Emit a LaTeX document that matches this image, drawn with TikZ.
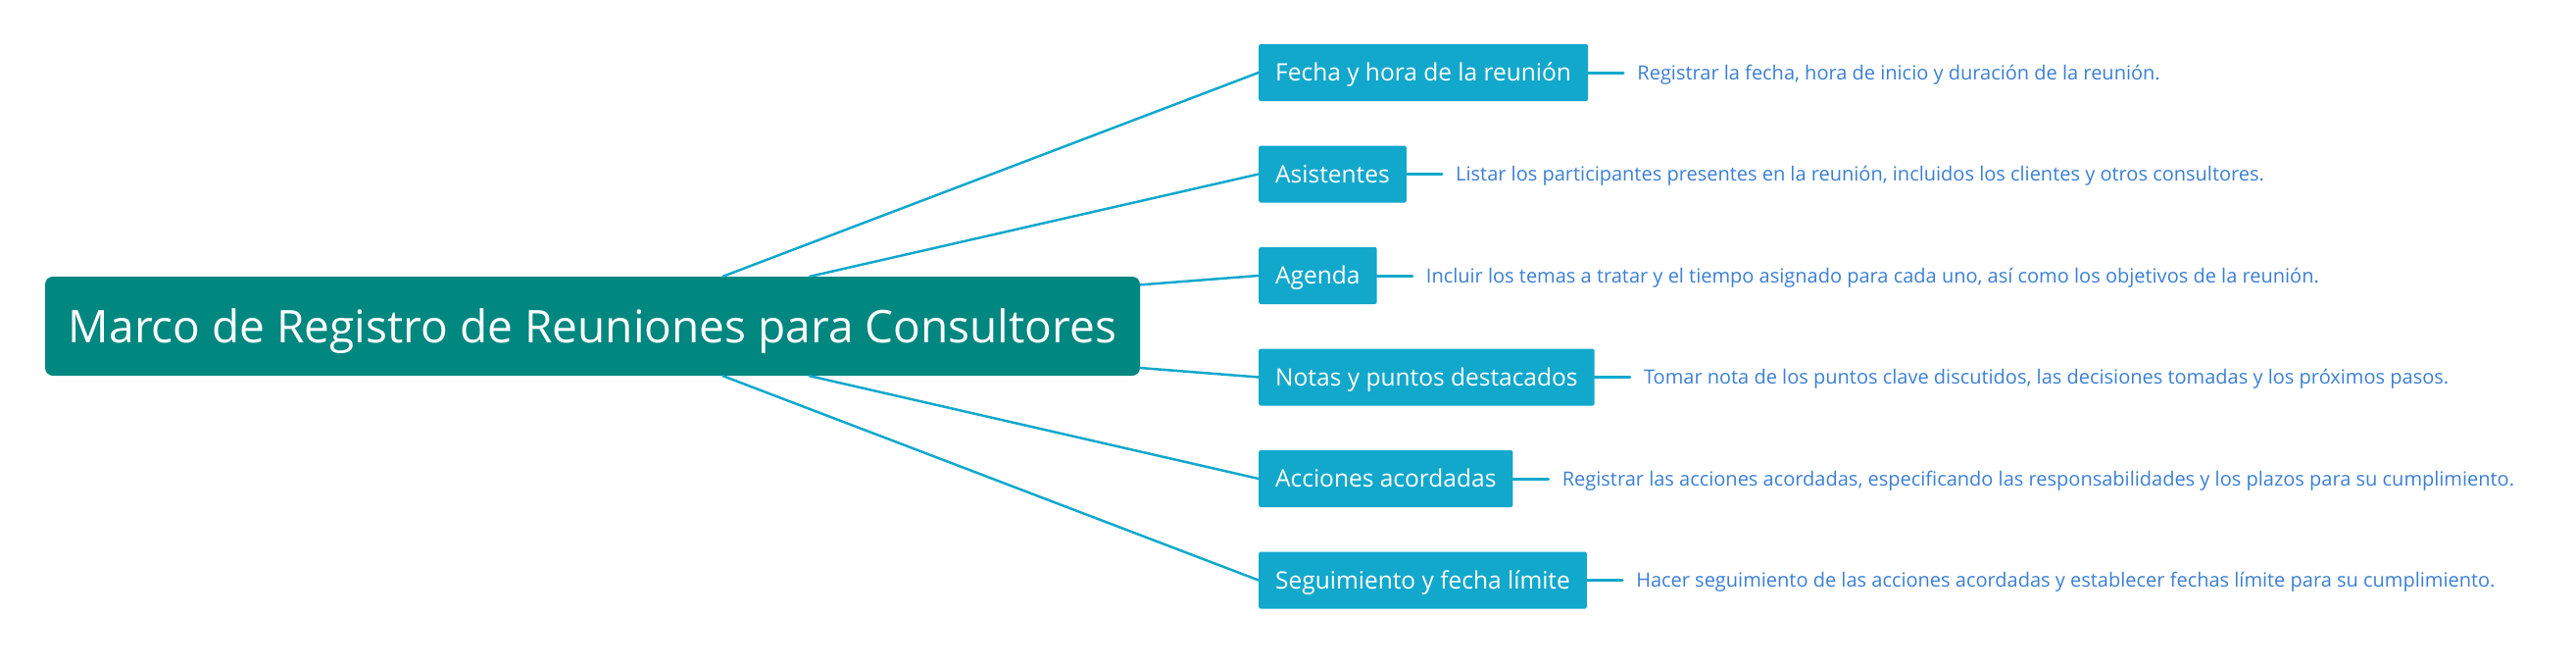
\documentclass[tikz,border=0pt]{standalone}
\usepackage{fontspec}
\setmainfont{Open Sans}
\usetikzlibrary{positioning}
\definecolor{MapTeal}{HTML}{00877F}
\definecolor{MapCyan}{HTML}{12A8CC}
\definecolor{MapBlue}{HTML}{3B7FD3}
\tikzset{
  root/.style={fill=MapTeal,text=white,rounded corners=8pt,minimum width=1117pt,
    minimum height=101pt,text height=33pt,text depth=0pt,font=\fontsize{46}{55}\selectfont},
  topic/.style={fill=MapCyan,text=white,rounded corners=2pt,anchor=west,minimum height=58pt,
    inner xsep=17pt,inner ysep=0pt,text height=17.5pt,text depth=0pt,
    font=\fontsize{24.5}{29}\selectfont},
  note/.style={text=MapBlue,inner xsep=14pt,inner ysep=0pt,text height=14.3pt,
    text depth=0pt,font=\fontsize{20}{24}\selectfont},
  link/.style={MapCyan,line width=2.5pt},
  stub/.style={MapCyan,line width=3pt}
}

\begin{document}
\begin{tikzpicture}[x=1pt,y=-1pt,line cap=round,line join=round]
  \useasboundingbox (0,0) rectangle (2628,681);
  \node[root] (M) at (604.5,332.5) {Marco de Registro de Reuniones para Consultores};
  \node[topic] (T1) at (1284,74) {Fecha y hora de la reunión};
  \node[topic] (T2) at (1284,177.5) {Asistentes};
  \node[topic] (T3) at (1284,281) {Agenda};
  \node[topic] (T4) at (1284,384.5) {Notas y puntos destacados};
  \node[topic] (T5) at (1284,488) {Acciones acordadas};
  \node[topic] (T6) at (1284,591.5) {Seguimiento y fecha límite};
  \node[note,right=36pt of T1] (D1) {Registrar la fecha, hora de inicio y duración de la reunión.};
  \node[note,right=36pt of T2] (D2) {Listar los participantes presentes en la reunión, incluidos los clientes y otros consultores.};
  \node[note,right=36pt of T3] (D3) {Incluir los temas a tratar y el tiempo asignado para cada uno, así como los objetivos de la reunión.};
  \node[note,right=36pt of T4] (D4) {Tomar nota de los puntos clave discutidos, las decisiones tomadas y los próximos pasos.};
  \node[note,right=36pt of T5] (D5) {Registrar las acciones acordadas, especificando las responsabilidades y los plazos para su cumplimiento.};
  \node[note,right=36pt of T6] (D6) {Hacer seguimiento de las acciones acordadas y establecer fechas límite para su cumplimiento.};
  % branches
  \draw[link] (M) -- (T1.west);
  \draw[link] (M) -- (T2.west);
  \draw[link] (M) -- (T3.west);
  \draw[link] (M) -- (T4.west);
  \draw[link] (M) -- (T5.west);
  \draw[link] (M) -- (T6.west);
  \draw[stub] (T1.east) -- (D1.west);
  \draw[stub] (T2.east) -- (D2.west);
  \draw[stub] (T3.east) -- (D3.west);
  \draw[stub] (T4.east) -- (D4.west);
  \draw[stub] (T5.east) -- (D5.west);
  \draw[stub] (T6.east) -- (D6.west);
\end{tikzpicture}
\end{document}
